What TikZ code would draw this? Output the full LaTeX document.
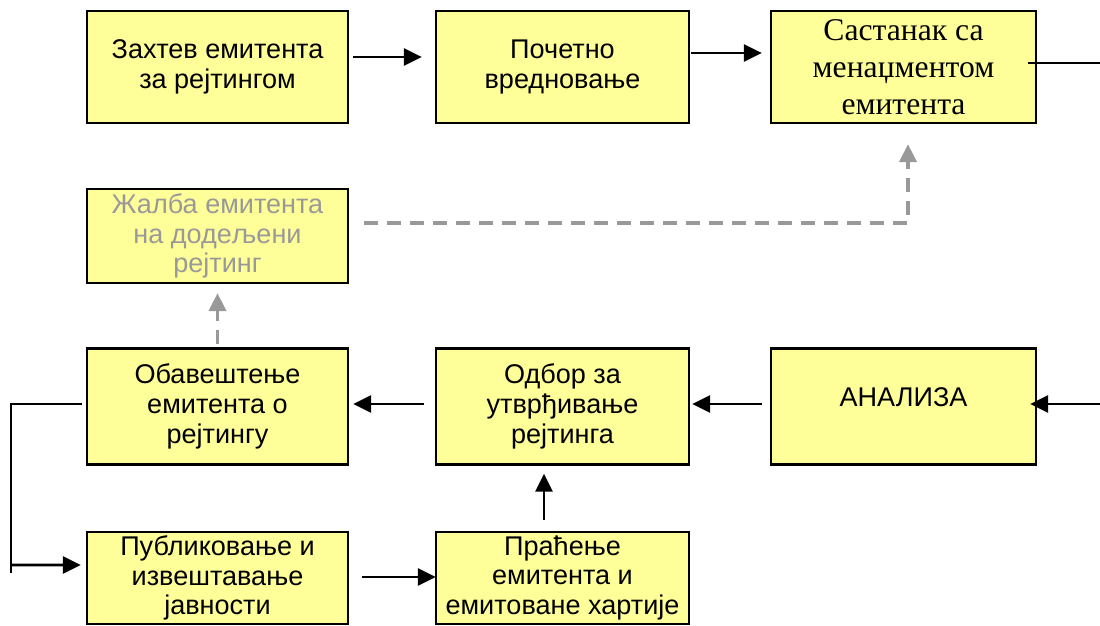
\documentclass[tikz,border=0pt]{standalone}
\usepackage{fontspec}
\setmainfont{Liberation Sans}
\newfontfamily\serifbox{Liberation Serif}
\usetikzlibrary{arrows.meta}

\definecolor{boxfill}{HTML}{FFFF99}
\definecolor{faded}{HTML}{999999}

\begin{document}
\begin{tikzpicture}[font=\fontsize{15.4}{17}\selectfont,
    stage/.style={draw=black, line width=1.3pt, fill=boxfill, align=center, inner sep=0pt},
    flow/.style={-{Triangle[length=3.6mm,width=3.4mm]}, line width=1.5pt},
    link/.style={line width=0.75pt},
    appealflow/.style={-{Triangle[length=3.6mm,width=3.4mm]}, draw=faded,
        line width=2.2pt, dash pattern=on 0.28cm off 0.18cm}]
  \useasboundingbox (0,0) rectangle (22,12.5);

  % top row
  \node[stage, minimum width=5.22cm, minimum height=2.24cm] (req) at (4.35,11.16)
    {Захтев емитента\\за рејтингом};
  \node[stage, minimum width=5.06cm, minimum height=2.24cm] (init) at (11.25,11.16)
    {Почетно\\вредновање};
  \node[stage, minimum width=5.30cm, minimum height=2.24cm,
        font=\serifbox\fontsize{18}{21}\selectfont] (meet) at (18.07,11.16)
    {Састанак са\\менаџментом\\емитента};

  \node[stage, minimum width=5.22cm, minimum height=1.88cm, text=faded] (appeal) at (4.35,7.78)
    {Жалба емитента\\на додељени\\рејтинг};

  % middle row
  \node[stage, minimum width=5.22cm, minimum height=2.32cm] (notify) at (4.35,4.37)
    {Обавештење\\емитента о\\рејтингу};
  \node[stage, minimum width=5.06cm, minimum height=2.32cm] (board) at (11.25,4.37)
    {Одбор за\\утврђивање\\рејтинга};
  \node[stage, minimum width=5.30cm, minimum height=2.32cm] (analysis) at (18.07,4.37)
    {АНАЛИЗА\hspace{0.42cm}\\[-0.22cm]\mbox{}};

  % bottom row
  \node[stage, minimum width=5.22cm, minimum height=1.84cm] (publish) at (4.35,0.94)
    {Публиковање и\\извештавање\\јавности};
  \node[stage, minimum width=5.06cm, minimum height=1.84cm] (monitor) at (11.25,0.94)
    {Праћење\\емитента и\\емитоване хартије};

  \coordinate (out) at (22,11.24);
  \coordinate (in) at (22,4.42);
  \coordinate (lt) at (0.22,4.42);
  \coordinate (lb) at (0.22,1.04);
  \coordinate (lm) at (0.22,1.2);

  \draw[flow] ([shift={(0.08,0.2)}]req.east) -- ([shift={(-0.26,0.2)}]init.west);
  \draw[flow] ([shift={(0.02,0.28)}]init.east) -- ([shift={(-0.16,0.28)}]meet.west);
  \draw[link] ([xshift=-0.18cm]meet.east |- out) -- (out);

  \draw[appealflow] ([shift={(0.3,0.26)}]appeal.east) -| ([shift={(0.09,-0.4)}]meet.south);
  \draw[appealflow] ([yshift=0.06cm]notify.north) -- ([yshift=-0.18cm]appeal.south);

  \draw[flow] (in) -- ([xshift=-0.14cm]analysis.east |- in);
  \draw[flow] ([shift={(-0.16,0.05)}]analysis.west) -- ([shift={(0.04,0.05)}]board.east);
  \draw[flow] ([shift={(-0.22,0.05)}]board.west) -- ([shift={(0.08,0.05)}]notify.east);

  \draw[link] ([shift={(-0.08,0.05)}]notify.west) -- (lt) -- (lb);
  \draw[flow] (lm) -- ([shift={(-0.1,0.26)}]publish.west);
  \draw[flow] ([shift={(0.26,0.02)}]publish.east) -- ([shift={(0.02,0.02)}]monitor.west);
  \draw[flow] ([shift={(-0.37,0.22)}]monitor.north) -- ([shift={(-0.37,-0.16)}]board.south);
\end{tikzpicture}
\end{document}
